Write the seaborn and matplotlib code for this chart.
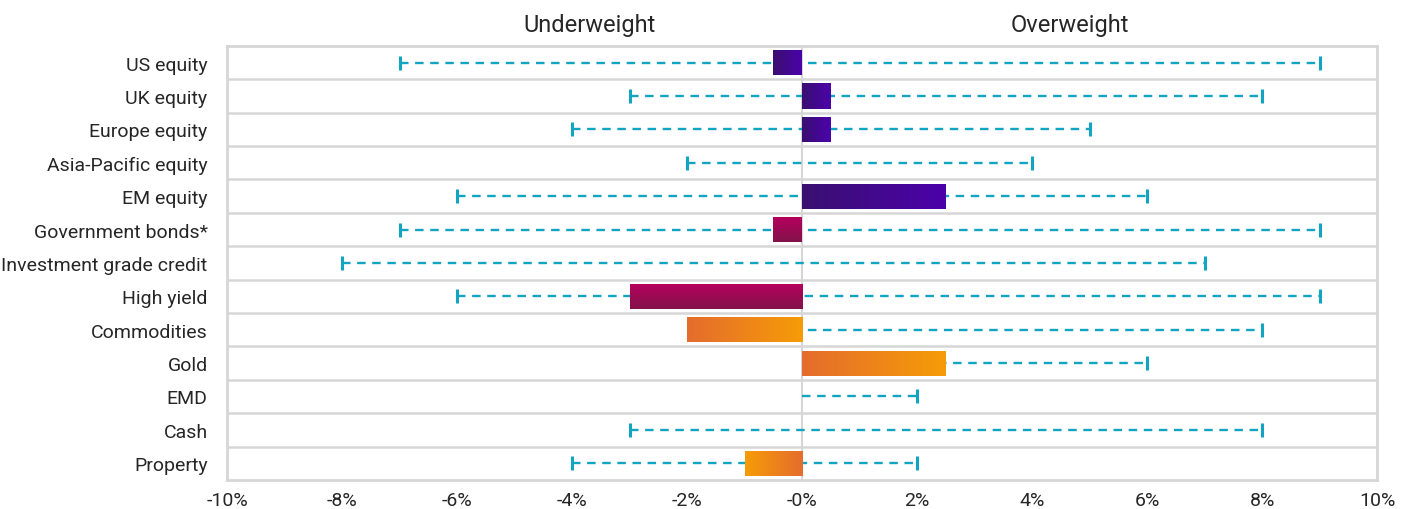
import numpy as np
import seaborn as sns
from matplotlib import pyplot as plt
from matplotlib.colors import LinearSegmentedColormap

# positioning data, in percent
categories = ["US equity", "UK equity", "Europe equity", "Asia-Pacific equity", "EM equity",
              "Government bonds*", "Investment grade credit", "High yield", "Commodities",
              "Gold", "EMD", "Cash", "Property"]
position = [-0.5, 0.5, 0.5, 0.0, 2.5, -0.5, 0.0, -3.0, -2.0, 2.5, 0.0, 0.0, -1.0]
range_low = [-7, -3, -4, -2, -6, -7, -8, -6, -2, 0, 0, -3, -4]
range_high = [9, 8, 5, 4, 6, 9, 7, 9, 8, 6, 2, 8, 2]
xticks = [-10, -8, -6, -4, -2, 0, 2, 4, 6, 8, 10]
xtick_labels = ["-10%", "-8%", "-6%", "-4%", "-2%", "-0%", "2%", "4%", "6%", "8%", "10%"]

# gradient styles per bar: (start colour, end colour, direction)
PURPLE = ("#3a1070", "#4b02aa", "h")
MAGENTA = ("#b8005f", "#821349", "v")
ORANGE = ("#e46c2e", "#f69c08", "h")
ORANGE_R = ("#f69c08", "#e46c2e", "h")
bar_styles = [PURPLE, PURPLE, PURPLE, None, PURPLE, MAGENTA, None, MAGENTA,
              ORANGE, ORANGE, None, None, ORANGE_R]

GRID = "#d6d6d6"
TEAL = "#12a5c1"
TEXT = "#262626"

sns.set_style("white")
plt.rcParams["font.family"] = ["Roboto", "DejaVu Sans"]

fig = plt.figure(figsize=(14.05, 5.10), dpi=100)
ax = fig.add_axes([0.1616, 0.057, 0.8186, 0.851])

sns.barplot(x=position, y=categories, orient="h", color=PURPLE[1], width=0.75,
            ax=ax, zorder=3, edgecolor="none")

# row separators and zero line
for i in range(len(categories) - 1):
    ax.axhline(i + 0.5, color=GRID, lw=1.8, zorder=1)
ax.axvline(0, color=GRID, lw=1.5, zorder=1)

# range whiskers
ypos = np.arange(len(categories))
ax.hlines(ypos, range_low, range_high, colors=TEAL, lw=1.7,
          linestyles=[(0, (3.6, 2.8))], zorder=2)
for y, lo, hi, pos in zip(ypos, range_low, range_high, position):
    for v in (lo, hi):
        if v != 0 and v != pos:
            ax.plot(v, y, marker="|", color=TEAL, markersize=10, mew=2.2, zorder=2)

# gradient fills clipped to the bars
for patch, style in zip(ax.patches, bar_styles):
    if style is None or patch.get_width() == 0:
        patch.set_visible(False)
        continue
    c0, c1, direction = style
    x0 = patch.get_x()
    x1 = x0 + patch.get_width()
    y0 = patch.get_y()
    y1 = y0 + patch.get_height()
    ramp = np.linspace(0, 1, 256)
    grad = ramp.reshape(1, -1) if direction == "h" else ramp.reshape(-1, 1)
    cmap = LinearSegmentedColormap.from_list("bar", [c0, c1])
    im = ax.imshow(grad, extent=[min(x0, x1), max(x0, x1), min(y0, y1), max(y0, y1)],
                   origin="lower", cmap=cmap, aspect="auto", zorder=3.5)
    im.set_clip_path(patch)

ax.set_xlim(-10, 10)
ax.set_ylim(len(categories) - 0.5, -0.5)
ax.set_xticks(xticks)
ax.set_xticklabels(xtick_labels)
ax.set_ylabel("")
ax.tick_params(axis="both", length=0, labelsize=14, colors=TEXT)
ax.tick_params(axis="y", pad=14)
ax.tick_params(axis="x", pad=8)

for side in ax.spines.values():
    side.set_color(GRID)
    side.set_linewidth(2)

ax.text(-3.7, 1.05, "Underweight", transform=ax.get_xaxis_transform(),
        ha="center", va="center", fontsize=17, color=TEXT)
ax.text(4.65, 1.05, "Overweight", transform=ax.get_xaxis_transform(),
        ha="center", va="center", fontsize=17, color=TEXT)

fig.savefig("out.png", dpi=100)
